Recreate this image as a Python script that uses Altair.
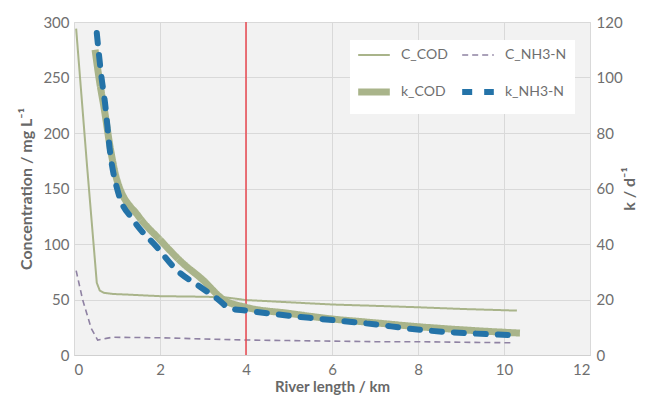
import altair as alt
import pandas as pd

# ---- data ----
c_cod_x = [0.05, 0.3, 0.53, 0.6, 0.7, 0.9, 1.2, 2.0, 3.0, 3.5, 4.0, 5.0, 6.0, 7.0, 8.0, 9.0, 10.3]
c_cod_y = [294, 172, 65, 58, 56, 55, 54.5, 53, 52.5, 52, 49.5, 47.5, 45.5, 44.3, 43, 41.5, 40]

c_nh3_x = [0.05, 0.2, 0.4, 0.55, 0.75, 0.9, 2.0, 3.0, 4.0, 5.0, 6.0, 7.0, 8.0, 9.0, 10.2]
c_nh3_y = [76, 50, 24, 13.5, 15, 16, 15.5, 14.5, 13.5, 13, 12.5, 12, 12, 11.5, 11]

k_cod_x = [0.49, 0.6, 0.7, 0.85, 1.0, 1.5, 2.0, 2.5, 3.0, 3.47, 4.0, 5.0, 6.0, 7.0, 8.0, 9.0, 10.37]
k_cod_y = [110, 98, 89, 74, 63, 50, 41.5, 33.5, 27, 20, 17.2, 15, 13, 11.6, 10.2, 9.1, 7.9]

k_nh3_x = [0.53, 0.64, 0.72, 0.84, 1.03, 1.38, 1.92, 2.39, 2.93, 3.32, 3.63, 4.0, 5.6, 6.8, 8.1, 10.14]
k_nh3_y = [116, 100, 91, 73, 58.4, 48.6, 39, 30.6, 24.6, 20.4, 16.8, 16, 13.2, 11.4, 9, 7.2]

marker_x = [4]

series_names = ["C_COD", "C_NH3-N", "k_COD", "k_NH3-N"]
series_colors = ["#a9b48a", "#8f82a3", "#a9b48a", "#2473a8"]
series_dashes = [[1, 0], [6, 4], [1, 0], [10, 12]]

c_cod = pd.DataFrame({"x": c_cod_x, "v": c_cod_y, "series": "C_COD"})
c_nh3 = pd.DataFrame({"x": c_nh3_x, "v": c_nh3_y, "series": "C_NH3-N"})
kcod = pd.DataFrame({"x": k_cod_x, "v": k_cod_y, "series": "k_COD"})
knh3 = pd.DataFrame({"x": k_nh3_x, "v": k_nh3_y, "series": "k_NH3-N"})
marker = pd.DataFrame({"x": marker_x})

FONT = "Lato"
LBL = "#6f6f6f"
TTL = "#686868"

xenc = alt.X("x:Q", scale=alt.Scale(domain=[0, 12], nice=False),
             axis=alt.Axis(values=list(range(0, 13, 2)), title="River length / km",
                           grid=True, gridColor="#d9d9d9", ticks=False,
                           domainColor="#d0d0d0", labelPadding=7, titlePadding=2,
                           titleFontSize=15))

legend_width_expr = ("datum.value === 'k_COD' ? 7 : datum.value === 'k_NH3-N' ? 6 : "
                     "datum.value === 'C_COD' ? 2 : 1.6")

color = alt.Color("series:N", scale=alt.Scale(domain=series_names, range=series_colors),
                  legend=alt.Legend(title=None, orient="none", legendX=276, legendY=18,
                                    columns=2, direction="horizontal",
                                    columnPadding=2, rowPadding=16,
                                    symbolType="stroke", symbolSize=1000, symbolOffset=9,
                                    symbolStrokeWidth=alt.ExprRef(expr=legend_width_expr),
                                    fillColor="white", padding=8, labelOffset=20,
                                    labelFontSize=14, labelColor=LBL, labelFont=FONT))
dash = alt.StrokeDash("series:N", scale=alt.Scale(domain=series_names, range=series_dashes),
                      legend=None)

left_y = alt.Y("v:Q", scale=alt.Scale(domain=[0, 300], nice=False),
               axis=alt.Axis(values=list(range(0, 301, 50)), title="Concentration / mg L⁻¹",
                             grid=True, gridColor="#d9d9d9", ticks=False, domain=False,
                             labelPadding=5, titlePadding=8))
right_y = alt.Y("v:Q", scale=alt.Scale(domain=[0, 120], nice=False),
                axis=alt.Axis(values=list(range(0, 121, 20)), title="k / d⁻¹", orient="right",
                              grid=False, ticks=False, domain=False, labelPadding=6,
                              titlePadding=15, titleAngle=270))

c_cod_layer = alt.Chart(c_cod).mark_line(strokeWidth=2).encode(
    x=xenc, y=left_y, color=color, strokeDash=dash)
c_nh3_layer = alt.Chart(c_nh3).mark_line(strokeWidth=1.6).encode(
    x="x:Q", y="v:Q", color=color, strokeDash=dash)
rule_layer = alt.Chart(marker).mark_rule(color="#e8474f", strokeWidth=1.5).encode(x="x:Q")

kcod_layer = alt.Chart(kcod).mark_line(strokeWidth=7, interpolate="monotone").encode(
    x="x:Q", y=right_y, color=color, strokeDash=dash)
knh3_layer = alt.Chart(knh3).mark_line(strokeWidth=6, strokeCap="round",
                                       interpolate="monotone").encode(
    x="x:Q", y="v:Q", color=color, strokeDash=dash)

left = alt.layer(c_cod_layer, c_nh3_layer, rule_layer)
right = alt.layer(kcod_layer, knh3_layer)

chart = alt.layer(left, right).resolve_scale(y="independent").properties(
    width=516, height=333,
    autosize=alt.AutoSizeParams(type="none"),
    padding={"left": 66, "top": 14, "right": 48, "bottom": 42},
).configure_view(fill="#f2f2f2", stroke="#d9d9d9").configure_axis(
    labelFont=FONT, labelFontSize=15, labelColor=LBL,
    titleFont=FONT, titleFontSize=16, titleFontWeight="bold", titleColor=TTL,
)

chart.save("out.html", embed_options={"renderer": "svg", "actions": False})
